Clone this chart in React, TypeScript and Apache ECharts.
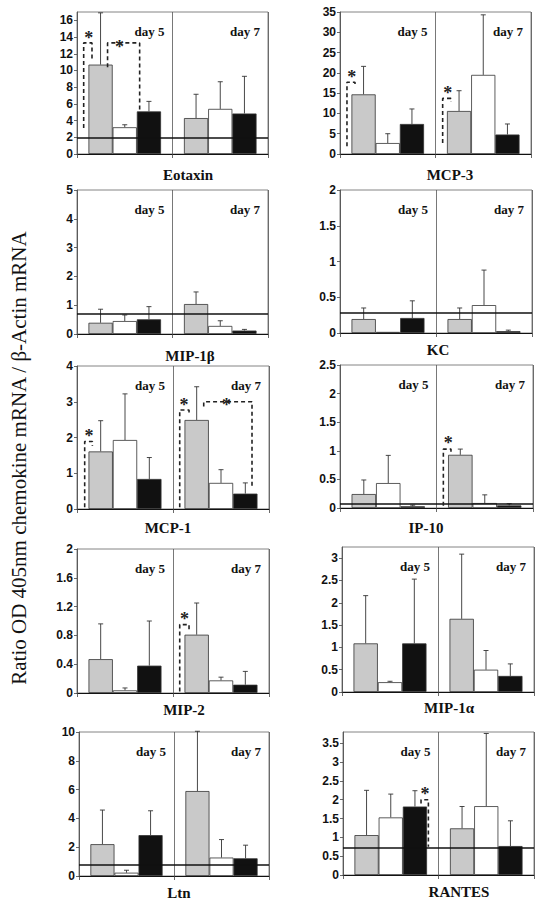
import React, { useEffect, useRef } from "react";
import * as echarts from "echarts";

// ---------- data ----------
const DAYS = ["day 5", "day 7"];
const PANEL_NAMES = ["Eotaxin", "MCP-3", "MIP-1β", "KC", "MCP-1", "IP-10", "MIP-2", "MIP-1α", "Ltn", "RANTES"];
const Y_TITLE = "Ratio OD 405nm chemokine mRNA / β-Actin mRNA";

// order in each array: day5 gray, day5 white, day5 black, day7 gray, day7 white, day7 black
const eotaxinMean = [10.7, 3.2, 5.1, 4.3, 5.4, 4.85];
const eotaxinErrTop = [16.9, 3.5, 6.3, 7.15, 8.65, 9.3];
const mcp3Mean = [14.7, 2.7, 7.4, 10.6, 19.5, 4.8];
const mcp3ErrTop = [21.6, 5.0, 11.1, 15.6, 34.3, 7.4];
const mip1bMean = [0.39, 0.45, 0.51, 1.04, 0.28, 0.12];
const mip1bErrTop = [0.86, 0.66, 0.95, 1.46, 0.46, 0.16];
const kcMean = [0.195, 0.015, 0.21, 0.195, 0.39, 0.025];
const kcErrTop = [0.35, 0.015, 0.45, 0.35, 0.88, 0.04];
const mcp1Mean = [1.61, 1.93, 0.84, 2.49, 0.73, 0.43];
const mcp1ErrTop = [2.47, 3.22, 1.44, 3.42, 1.1, 0.73];
const ip10Mean = [0.244, 0.436, 0.03, 0.93, 0.087, 0.045];
const ip10ErrTop = [0.49, 0.92, 0.05, 1.03, 0.23, 0.075];
const mip2Mean = [0.47, 0.037, 0.38, 0.81, 0.175, 0.115];
const mip2ErrTop = [0.96, 0.07, 1.0, 1.25, 0.22, 0.3];
const mip1aMean = [1.09, 0.22, 1.09, 1.64, 0.5, 0.36];
const mip1aErrTop = [2.16, 0.24, 2.53, 3.09, 0.93, 0.63];
const ltnMean = [2.21, 0.23, 2.84, 5.9, 1.28, 1.23];
const ltnErrTop = [4.58, 0.4, 4.53, 10.05, 2.53, 2.14];
const rantesMean = [1.06, 1.53, 1.82, 1.24, 1.83, 0.77];
const rantesErrTop = [2.25, 2.15, 2.24, 1.82, 3.76, 1.44];

const baselines = [2.0, null, 0.72, 0.29, null, 0.07, null, null, 0.79, 0.73];
const yMax = [17, 35, 5, 2, 4, 2.5, 2, 3.25, 10, 3.8];
const yInterval = [2, 5, 1, 0.5, 1, 0.5, 0.4, 0.5, 2, 0.5];

// significance brackets: x on a 0..2 scale (category span), y in data units
const eotaxinBrackets = [
  [[0.07, 3.1], [0.07, 13.3], [0.157, 13.3], [0.157, 11.4]],
  [[0.32, 10.4], [0.32, 13.3], [0.656, 13.3], [0.656, 5.1]],
];
const eotaxinStars = [[0.122, 13.9], [0.445, 12.8]];
const mcp3Brackets = [
  [[0.073, 1.9], [0.073, 17.7], [0.157, 17.7], [0.157, 16.7]],
  [[1.075, 2.7], [1.075, 13.7], [1.162, 13.7], [1.162, 12.9]],
];
const mcp3Stars = [[0.122, 19.1], [1.127, 15.05]];
const mcp1Brackets = [
  [[0.08, 0.05], [0.08, 1.89], [0.16, 1.89], [0.16, 1.77]],
  [[1.07, 0.05], [1.07, 2.77], [1.167, 2.77], [1.167, 2.66]],
  [[1.32, 2.87], [1.32, 3.0], [1.823, 3.0], [1.823, 0.59]],
];
const mcp1Stars = [[0.125, 2.03], [1.115, 2.91], [1.556, 2.91]];
const ip10Brackets = [[[1.071, 0.04], [1.071, 1.03], [1.15, 1.03], [1.15, 0.98]]];
const ip10Stars = [[1.123, 1.145]];
const mip2Brackets = [[[1.07, 0.02], [1.07, 0.95], [1.167, 0.95], [1.167, 0.88]]];
const mip2Stars = [[1.12, 1.025]];
const rantesBrackets = [[[0.817, 1.9], [0.817, 2.0], [0.894, 2.0], [0.894, 0.75]]];
const rantesStars = [[0.859, 2.15]];

const means = [eotaxinMean, mcp3Mean, mip1bMean, kcMean, mcp1Mean, ip10Mean, mip2Mean, mip1aMean, ltnMean, rantesMean];
const errTops = [eotaxinErrTop, mcp3ErrTop, mip1bErrTop, kcErrTop, mcp1ErrTop, ip10ErrTop, mip2ErrTop, mip1aErrTop, ltnErrTop, rantesErrTop];
const brackets = [eotaxinBrackets, mcp3Brackets, [], [], mcp1Brackets, ip10Brackets, mip2Brackets, [], [], rantesBrackets];
const stars = [eotaxinStars, mcp3Stars, [], [], mcp1Stars, ip10Stars, mip2Stars, [], [], rantesStars];

// ---------- layout ----------
const GRIDS = [
  [77, 12, 191, 142],
  [340, 12, 191, 142],
  [77, 190, 191, 144],
  [340, 190, 192, 143],
  [77, 366, 192, 143],
  [340, 365, 193, 143],
  [77, 549, 192, 144],
  [342, 547, 192, 145],
  [79, 732, 190, 144],
  [343, 732, 191, 143],
];
const TITLE_POS = [
  [188, 175], [450, 175], [190, 356], [438, 350], [168, 528],
  [426, 528], [184, 710], [449, 708], [179, 893], [459, 892],
];
const FILLS = ["#c9c9c9", "#ffffff", "#111111"];
const CAT_GAP = 0.24;
const SERIF = "'Times New Roman', 'Liberation Serif', serif";
const SANS = "Arial, 'Liberation Sans', sans-serif";

function buildOption() {
  const grid: any[] = [];
  const xAxis: any[] = [];
  const yAxis: any[] = [];
  const series: any[] = [];
  const graphic: any[] = [];

  GRIDS.forEach(([l, t, w, h], i) => {
    grid.push({ left: l, top: t, width: w, height: h, show: true, borderColor: "#666", borderWidth: 0.8, backgroundColor: "transparent" });
    xAxis.push({
      type: "category", gridIndex: i, data: DAYS,
      axisLabel: { show: false },
      axisTick: { show: true, length: 4, lineStyle: { color: "#444", width: 0.8 } },
      axisLine: { show: true, lineStyle: { color: "#111", width: 1 } },
      splitLine: { show: true, lineStyle: { color: "#555", width: 0.8 } },
    });
    xAxis.push({ type: "value", gridIndex: i, min: 0, max: 2, show: false });
    const maxNotMultiple = Math.abs(yMax[i] / yInterval[i] - Math.round(yMax[i] / yInterval[i])) > 1e-6;
    yAxis.push({
      type: "value", gridIndex: i, min: 0, max: yMax[i], interval: yInterval[i],
      axisLine: { show: true, lineStyle: { color: "#555", width: 0.8 } },
      axisTick: { show: true, length: 3, lineStyle: { color: "#444", width: 0.8 } },
      splitLine: { show: false },
      axisLabel: {
        color: "#111", fontFamily: SANS, fontWeight: "bold", fontSize: 12, margin: 4,
        showMaxLabel: !maxNotMultiple,
        formatter: (v: number) => String(Math.round(v * 100) / 100),
      },
    });

    const m = means[i];
    const e = errTops[i];
    for (let k = 0; k < 3; k++) {
      const s: any = {
        type: "bar", xAxisIndex: 2 * i, yAxisIndex: i,
        data: [m[k], m[3 + k]],
        barGap: "0%", barCategoryGap: CAT_GAP * 100 + "%",
        itemStyle: { color: FILLS[k], borderColor: "#333", borderWidth: 0.8 },
        silent: true,
      };
      if (k === 2 && baselines[i] != null) {
        s.markLine = {
          silent: true, symbol: ["none", "none"], label: { show: false },
          lineStyle: { color: "#111", width: 1.5, type: "solid" },
          data: [{ yAxis: baselines[i] }],
        };
      }
      series.push(s);
    }
    const errData: any[] = [];
    for (let d = 0; d < 2; d++) for (let k = 0; k < 3; k++) errData.push([d, k, m[d * 3 + k], e[d * 3 + k]]);
    series.push({
      type: "custom", xAxisIndex: 2 * i, yAxisIndex: i, silent: true, clip: false,
      encode: { x: 0, y: 3 },
      data: errData,
      renderItem: (_p: any, api: any) => {
        const cat = api.value(0), slot = api.value(1), mean = api.value(2), top = api.value(3);
        if (top <= mean) return { type: "group", children: [] };
        const b = api.coord([cat, mean]);
        const tp = api.coord([cat, top]);
        const band = api.size([1, 0])[0];
        const bw = (band * (1 - CAT_GAP)) / 3;
        const x = b[0] + (slot - 1) * bw;
        const st = { stroke: "#333", lineWidth: 0.9 };
        return {
          type: "group",
          children: [
            { type: "line", shape: { x1: x, y1: b[1], x2: x, y2: tp[1] }, style: st },
            { type: "line", shape: { x1: x - 2.5, y1: tp[1], x2: x + 2.5, y2: tp[1] }, style: st },
          ],
        };
      },
    });
    brackets[i].forEach((br: number[][]) => {
      series.push({
        type: "line", xAxisIndex: 2 * i + 1, yAxisIndex: i, data: br, symbol: "none", silent: true,
        lineStyle: { color: "#222", width: 1.6, type: [4, 3] }, z: 5,
      });
    });
    if (stars[i].length) {
      series.push({
        type: "custom", xAxisIndex: 2 * i + 1, yAxisIndex: i, data: stars[i], silent: true, z: 6, clip: false,
        encode: { x: 0, y: 1 },
        renderItem: (_p: any, api: any) => {
          const p = api.coord([api.value(0), api.value(1)]);
          return {
            type: "text", x: p[0], y: p[1],
            style: { text: "*", font: `bold 18px ${SERIF}`, fill: "#222", align: "center", verticalAlign: "middle" },
          };
        },
      });
    }

    // titles and day labels
    graphic.push({
      type: "text", x: TITLE_POS[i][0], y: TITLE_POS[i][1],
      style: { text: PANEL_NAMES[i], font: `bold 15px ${SERIF}`, fill: "#111", align: "center", verticalAlign: "middle" },
    });
    const mid = l + w / 2;
    graphic.push({
      type: "text", x: mid - 8, y: t + 19,
      style: { text: DAYS[0], font: `bold 13px ${SERIF}`, fill: "#111", align: "right", verticalAlign: "middle" },
    });
    graphic.push({
      type: "text", x: l + w - 8, y: t + 19,
      style: { text: DAYS[1], font: `bold 13px ${SERIF}`, fill: "#111", align: "right", verticalAlign: "middle" },
    });
  });

  graphic.push({
    type: "text", x: 19, y: 458, rotation: Math.PI / 2,
    style: { text: Y_TITLE, font: `21px ${SERIF}`, fill: "#111", align: "center", verticalAlign: "middle" },
  });

  return { animation: false, backgroundColor: "#fff", grid, xAxis, yAxis, series, graphic };
}

export default function App() {
  const ref = useRef<HTMLDivElement>(null);
  useEffect(() => {
    if (!ref.current) return;
    const chart = echarts.init(ref.current, undefined, { renderer: "svg" });
    chart.setOption(buildOption() as any);
    return () => chart.dispose();
  }, []);
  return <div ref={ref} style={{ position: "absolute", left: 0, top: 0, width: 542, height: 903 }} />;
}
